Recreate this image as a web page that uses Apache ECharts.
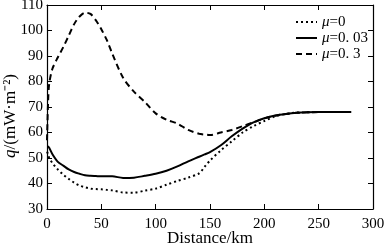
<!DOCTYPE html>
<html>
<head>
<meta charset="utf-8">
<script src="https://cdn.jsdelivr.net/npm/echarts@6/dist/echarts.min.js"></script>
<style>
  html, body { margin: 0; padding: 0; background: #fff; }
  #chart { width: 384px; height: 245px; }
</style>
</head>
<body>
<div id="chart"></div>
<script>
// distance along profile (km)
const distance = [0, 1, 2, 5, 10, 15, 20, 25, 30, 35, 40, 45, 50, 55, 60, 70, 80, 90, 100, 110, 120, 130, 140, 145, 150, 160, 170, 180, 190, 200, 210, 220, 230, 240, 250, 260, 270, 280];
// heat flow q (mW/m2)
const mu0 = [52.5, 51.5, 50, 48, 45.5, 43.5, 41.8, 40.3, 39.2, 38.5, 38, 37.8, 37.7, 37.5, 37.3, 36.5, 36.4, 37.2, 38, 39.5, 41, 42.3, 44, 46.5, 49, 53, 56.5, 60, 62.5, 64.5, 66.3, 67.3, 67.8, 67.9, 68, 68, 68, 68];
const mu003 = [54.5, 54.5, 54, 51.5, 48.5, 47, 45.5, 44.5, 43.8, 43.2, 43, 42.9, 42.8, 42.8, 42.8, 42.2, 42.3, 43, 43.8, 45, 46.7, 48.7, 50.5, 51.4, 52.3, 55, 58.5, 61.5, 64, 65.6, 66.7, 67.3, 67.7, 67.9, 68, 68, 68, 68];
const mu03 = [57, 72, 79, 85, 89.5, 93.5, 98, 102.5, 105.5, 107, 106.5, 104, 100.5, 96.3, 91, 81.5, 76, 72, 67.5, 65, 63.5, 61, 59.5, 59.2, 59, 60, 61, 62.5, 64, 65.5, 66.6, 67.3, 67.7, 67.9, 68, 68, 68, 68];
const seriesNames = ['{i|μ}=0', '{i|μ}=0. 03', '{i|μ}=0. 3'];
const xTicks = { min: 0, max: 300, interval: 50 };
const yTicks = { min: 30, max: 110, interval: 10 };

const pairs = (ys) => distance.map((d, i) => [d, ys[i]]);
const font = 'Liberation Serif';

const chart = echarts.init(document.getElementById('chart'));
const tickStyle = { show: true, inside: true, length: 5, lineStyle: { color: '#000', width: 1 } };
const lineAxis = { show: true, onZero: false, lineStyle: { color: '#000', width: 1.2 } };

chart.setOption({
  animation: false,
  textStyle: { fontFamily: font, color: '#000' },
  grid: { left: 47, right: 11, top: 5, bottom: 36, outerBoundsMode: 'none', containLabel: false },
  legend: {
    orient: 'vertical',
    left: 290,
    top: 9,
    itemWidth: 21,
    itemHeight: 10,
    itemGap: 0,
    itemStyle: { opacity: 0 },
    textStyle: {
      fontFamily: font, fontSize: 15, lineHeight: 16, color: '#000',
      rich: { i: { fontFamily: font, fontStyle: 'italic', fontSize: 15 } }
    },
    data: seriesNames
  },
  xAxis: [
    {
      type: 'value', ...xTicks,
      name: 'Distance/km', nameLocation: 'middle', nameGap: 21, nameMoveOverlap: false,
      nameTextStyle: { fontFamily: font, fontSize: 17, color: '#000' },
      axisLine: lineAxis, axisTick: tickStyle, splitLine: { show: false },
      axisLabel: { fontFamily: font, fontSize: 15, color: '#000', margin: 8 }
    },
    {
      type: 'value', ...xTicks, position: 'top',
      axisLine: lineAxis, axisTick: tickStyle, splitLine: { show: false },
      axisLabel: { show: false }
    }
  ],
  yAxis: [
    {
      type: 'value', ...yTicks,
      name: '{i|q}/(mW·m⁻²)', nameLocation: 'middle', nameGap: 28, nameMoveOverlap: false,
      nameTextStyle: {
        fontFamily: font, fontSize: 17, color: '#000', padding: [0, 18, 0, 0],
        rich: { i: { fontFamily: font, fontStyle: 'italic', fontSize: 17 } }
      },
      axisLine: lineAxis, axisTick: tickStyle, splitLine: { show: false },
      axisLabel: { fontFamily: font, fontSize: 15, color: '#000', margin: 4 }
    },
    {
      type: 'value', ...yTicks, position: 'right',
      axisLine: lineAxis, axisTick: tickStyle, splitLine: { show: false },
      axisLabel: { show: false }
    }
  ],
  series: [
    {
      name: seriesNames[0], type: 'line', smooth: 0.3, symbol: 'none',
      data: pairs(mu0), itemStyle: { color: '#000' },
      lineStyle: { color: '#000', width: 2, type: [2, 3] }
    },
    {
      name: seriesNames[1], type: 'line', smooth: 0.3, symbol: 'none',
      data: pairs(mu003), itemStyle: { color: '#000' },
      lineStyle: { color: '#000', width: 2, type: 'solid' }
    },
    {
      name: seriesNames[2], type: 'line', smooth: 0.3, symbol: 'none',
      data: pairs(mu03), itemStyle: { color: '#000' },
      lineStyle: { color: '#000', width: 2, type: [6, 4] }
    }
  ]
});
</script>
</body>
</html>
